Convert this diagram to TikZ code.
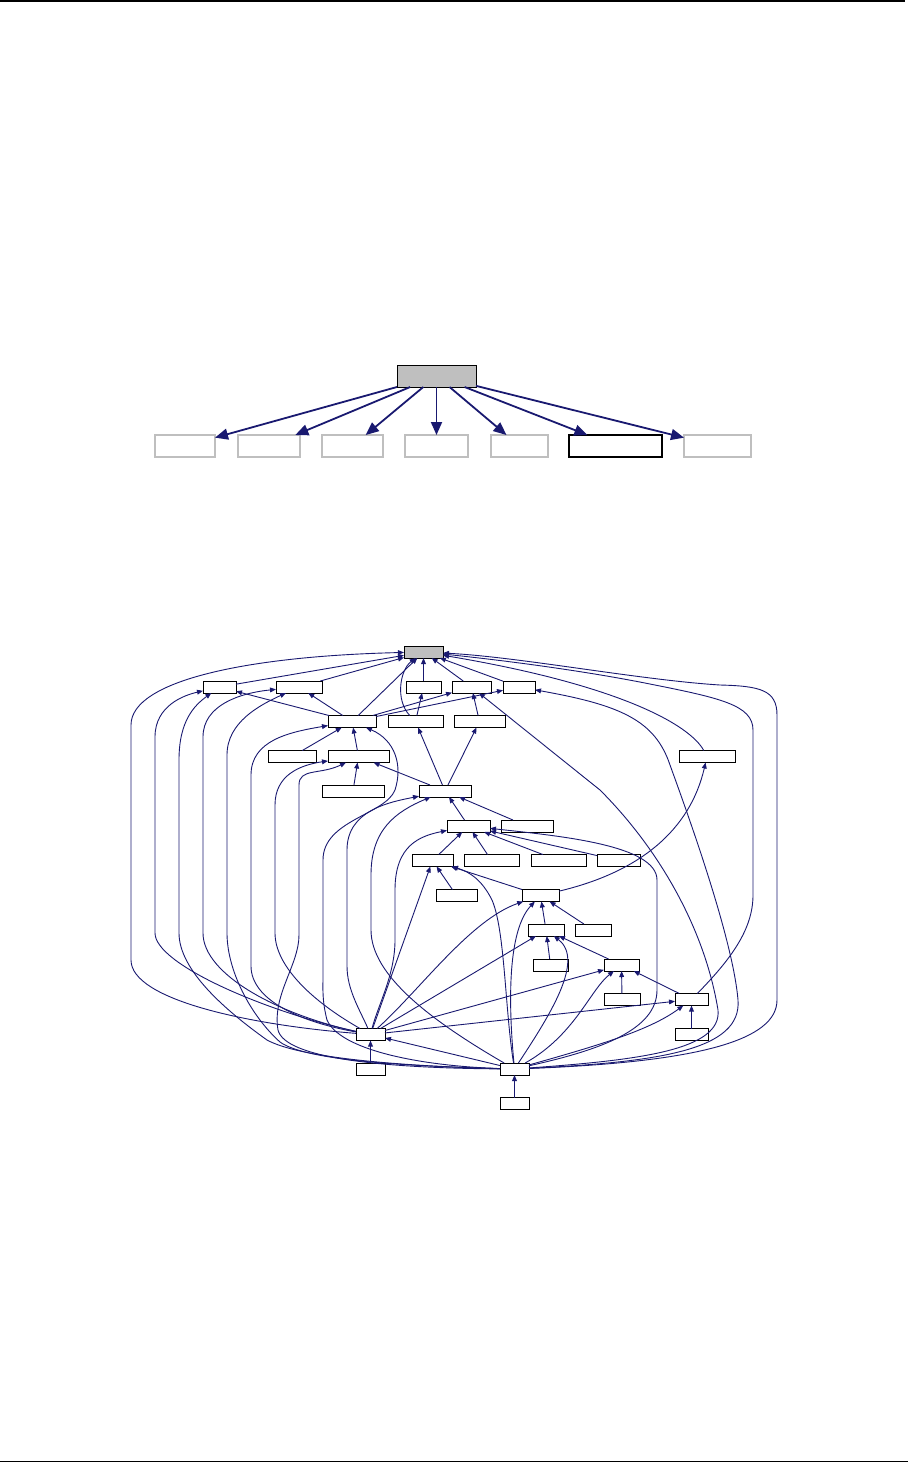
\documentclass[tikz,border=0pt]{standalone}
\usetikzlibrary{arrows.meta}
\definecolor{navy}{RGB}{25,25,112}
\definecolor{boxgrey}{RGB}{191,191,191}
\begin{document}
\begin{tikzpicture}[x=0.5pt,y=-0.5pt,
    hubbox/.style={draw=black,fill=boxgrey,line width=0.5pt,inner sep=0pt,outer sep=0pt},
    greybox/.style={draw=boxgrey,line width=0.6pt,inner sep=0pt,outer sep=0pt,minimum height=11pt},
    filebox/.style={draw=black,line width=0.5pt,inner sep=0pt,outer sep=0pt,minimum height=6pt},
    incl/.style={draw=navy,line width=0.9pt,-{Triangle[length=6.5pt,width=5.5pt]}},
    dep/.style={draw=navy,line width=0.45pt,-{Triangle[length=3pt,width=2.4pt]}}]
    \useasboundingbox (0,0) rectangle (908,1463);
    % page rules
    \draw[line width=0.6pt] (0,1) -- (905,1);
    \draw[line width=0.6pt] (0,1461.5) -- (908,1461.5);
    % include graph
    \node[hubbox,minimum width=39.5pt,minimum height=11pt] (T) at (436.5,376) {};
    \node[greybox,minimum width=30pt] (S1) at (185,446) {};
    \node[greybox,minimum width=31pt] (S2) at (269,446) {};
    \node[greybox,minimum width=30.5pt] (S3) at (352.5,446) {};
    \node[greybox,minimum width=31.5pt] (S4) at (436.5,446) {};
    \node[greybox,minimum width=28.5pt] (S5) at (519.5,446) {};
    \node[greybox,draw=black,minimum width=46.5pt] (S6) at (615.5,446) {};
    \node[greybox,minimum width=33.5pt] (S7) at (717.5,446) {};
    \draw[incl] (T) -- (S1);
    \draw[incl] (T) -- (S2);
    \draw[incl] (T) -- (S3);
    \draw[incl] (T) -- (S4);
    \draw[incl] (T) -- (S5);
    \draw[incl] (T) -- (S6);
    \draw[incl] (T) -- (S7);
    % included-by graph: files
    \node[filebox,hubbox,minimum width=19.5pt] (G) at (423.5,652) {};
    \node[filebox,minimum width=16.5pt] (A1) at (219.5,687) {};
    \node[filebox,minimum width=23pt] (A2) at (299,687) {};
    \node[filebox,minimum width=17.5pt] (A3) at (423.5,687) {};
    \node[filebox,minimum width=19.5pt] (A4) at (471.5,687) {};
    \node[filebox,minimum width=16pt] (A5) at (519,687) {};
    \node[filebox,minimum width=24pt] (B1) at (352,721.5) {};
    \node[filebox,minimum width=27.5pt] (B2) at (415.5,721.5) {};
    \node[filebox,minimum width=25.5pt] (B3) at (479.5,721.5) {};
    \node[filebox,minimum width=24pt] (C1) at (292,756.5) {};
    \node[filebox,minimum width=30.5pt] (C2) at (358.5,756.5) {};
    \node[filebox,minimum width=28pt] (R1) at (707,756.5) {};
    \node[filebox,minimum width=31pt] (D1) at (353,791) {};
    \node[filebox,minimum width=26pt] (E) at (445,791) {};
    \node[filebox,minimum width=21.5pt] (F1) at (468.5,826) {};
    \node[filebox,minimum width=26pt] (F2) at (527,826) {};
    \node[filebox,minimum width=20.5pt] (H1) at (432.5,860.5) {};
    \node[filebox,minimum width=27.5pt] (H2) at (491.5,860.5) {};
    \node[filebox,minimum width=27.5pt] (H3) at (558.5,860.5) {};
    \node[filebox,minimum width=21.5pt] (H4) at (618.5,860.5) {};
    \node[filebox,minimum width=20.5pt] (I1) at (456.5,895.5) {};
    \node[filebox,minimum width=18.5pt] (I2) at (540.5,895.5) {};
    \node[filebox,minimum width=18pt] (J1) at (546,930) {};
    \node[filebox,minimum width=18pt] (J2) at (593,930) {};
    \node[filebox,minimum width=17.5pt] (K1) at (550.5,965) {};
    \node[filebox,minimum width=17.5pt] (K2) at (621.5,965) {};
    \node[filebox,minimum width=18pt] (L1) at (622,999.5) {};
    \node[filebox,minimum width=16.5pt] (L2) at (691.5,999.5) {};
    \node[filebox,minimum width=16.5pt] (M1) at (691.5,1034.5) {};
    \node[filebox,minimum width=14.5pt] (P) at (370.5,1034.5) {};
    \node[filebox,minimum width=14.5pt] (Q) at (370.5,1069) {};
    \node[filebox,minimum width=14.5pt] (N) at (514.5,1069) {};
    \node[filebox,minimum width=14.5pt] (O) at (514.5,1103.5) {};
    % short edges
    \draw[dep] (A1) -- (G);
    \draw[dep] (A2) -- (G);
    \draw[dep] (B1) -- (G);
    \draw[dep] (A3) -- (G);
    \draw[dep] (A4) -- (G);
    \draw[dep] (A5) -- (G);
    \draw[dep] (B2) .. controls (395,700) and (400,670) .. (G);
    \draw[dep] (B1) -- (A1);
    \draw[dep] (B1) -- (A2);
    \draw[dep] (B1) -- (A4);
    \draw[dep] (B1) -- (A5);
    \draw[dep] (B2) -- (A3);
    \draw[dep] (B3) -- (A4);
    \draw[dep] (C1) -- (B1);
    \draw[dep] (C2) -- (B1);
    \draw[dep] (D1) -- (C2);
    \draw[dep] (E) -- (C2);
    \draw[dep] (E) -- (B2);
    \draw[dep] (E) -- (B3);
    \draw[dep] (F1) -- (E);
    \draw[dep] (F2) -- (E);
    \draw[dep] (H1) -- (F1);
    \draw[dep] (H2) -- (F1);
    \draw[dep] (H3) -- (F1);
    \draw[dep] (H4) -- (F1);
    \draw[dep] (I1) -- (H1);
    \draw[dep] (I2) -- (H1);
    \draw[dep] (J1) -- (I2);
    \draw[dep] (J2) -- (I2);
    \draw[dep] (K1) -- (J1);
    \draw[dep] (K2) -- (J1);
    \draw[dep] (L1) -- (K2);
    \draw[dep] (L2) -- (K2);
    \draw[dep] (M1) -- (L2);
    \draw[dep] (Q) -- (P);
    \draw[dep] (O) -- (N);
    \draw[dep] (N) -- (P);
    \draw[dep] (I2) .. controls (640,872) and (690,830) .. (R1);
    \draw[dep] (R1) .. controls (690,725) and (620,685) .. (G);
    % edges from P
    \draw[dep] (P) .. controls (250,1025) and (131,1000) .. (131,960) -- (131,725) .. controls (131,680) and (250,656) .. (G);
    \draw[dep] (P) .. controls (270,1013) and (155,965) .. (155,933) -- (155,737) .. controls (155,705) and (185,695) .. (A1);
    \draw[dep] (P) .. controls (280,1015) and (203,975) .. (203,933) -- (203,737) .. controls (203,705) and (240,693) .. (A2);
    \draw[dep] (P) .. controls (300,1022) and (251,1000) .. (251,966) -- (251,775) .. controls (251,740) and (290,732) .. (B1);
    \draw[dep] (P) .. controls (310,1000) and (275,965) .. (275,933) -- (275,805) .. controls (275,775) and (300,765) .. (C2);
    \draw[dep] (P) .. controls (360,1010) and (347,990) .. (347,966) -- (347,850) .. controls (347,810) and (390,802) .. (E);
    \draw[dep] (P) .. controls (378,1005) and (395,975) .. (395,940) -- (395,890) .. controls (395,845) and (420,836) .. (F1);
    \draw[dep] (P) -- (H1);
    \draw[dep] (P) .. controls (420,990) and (470,920) .. (I2);
    \draw[dep] (P) -- (J1);
    \draw[dep] (P) -- (K2);
    \draw[dep] (P) -- (L2);
    % edges from N
    \draw[dep] (N) .. controls (400,1066) and (300,1058) .. (267,1040) .. controls (225,1010) and (179,970) .. (179,933) -- (179,760) .. controls (179,720) and (195,705) .. (A1);
    \draw[dep] (N) .. controls (400,1066) and (305,1060) .. (280,1042) .. controls (250,1015) and (227,970) .. (227,933) -- (227,755) .. controls (227,722) and (260,705) .. (A2);
    \draw[dep] (N) .. controls (380,1068) and (285,1058) .. (278,1030) .. controls (272,995) and (299,965) .. (299,935) -- (299,785) .. controls (299,768) and (320,775) .. (C2);
    \draw[dep] (N) .. controls (420,1066) and (340,1050) .. (327,1020) .. controls (322,1000) and (323,990) .. (323,975) -- (323,860) .. controls (323,820) and (385,815) .. (395,790) .. controls (403,765) and (395,740) .. (B1);
    \draw[dep] (N) .. controls (430,1020) and (371,975) .. (371,930) -- (371,875) .. controls (371,830) and (395,812) .. (E);
    \draw[dep] (N) .. controls (505,1010) and (505,930) .. (492,900) .. controls (482,880) and (470,872) .. (H1);
    \draw[dep] (N) .. controls (508,1000) and (508,930) .. (I2);
    \draw[dep] (N) .. controls (550,1015) and (585,960) .. (J1);
    \draw[dep] (N) .. controls (575,1035) and (590,990) .. (K2);
    \draw[dep] (N) .. controls (600,1045) and (650,1030) .. (L2);
    \draw[dep] (N) .. controls (600,1050) and (657,1030) .. (657,990) -- (657,880) .. controls (657,845) and (560,836) .. (F1);
    \draw[dep] (N) .. controls (640,1060) and (722,1050) .. (718,1010) .. controls (705,930) and (660,850) .. (600,790) -- (A4);
    \draw[dep] (N) .. controls (660,1062) and (742,1050) .. (738,1000) .. controls (733,940) and (690,820) .. (670,765) .. controls (655,720) and (620,705) .. (A5);
    \draw[dep] (N) .. controls (700,1062) and (777,1040) .. (777,1000) -- (777,715) .. controls (777,690) and (760,686) .. (720,685) .. controls (640,680) and (520,657) .. (G);
    % edge from L2 round the right
    \draw[dep] (L2) .. controls (730,960) and (753,930) .. (753,895) -- (753,730) .. controls (753,705) and (720,698) .. (650,684) .. controls (580,670) and (500,660) .. (G);
\end{tikzpicture}
\end{document}
